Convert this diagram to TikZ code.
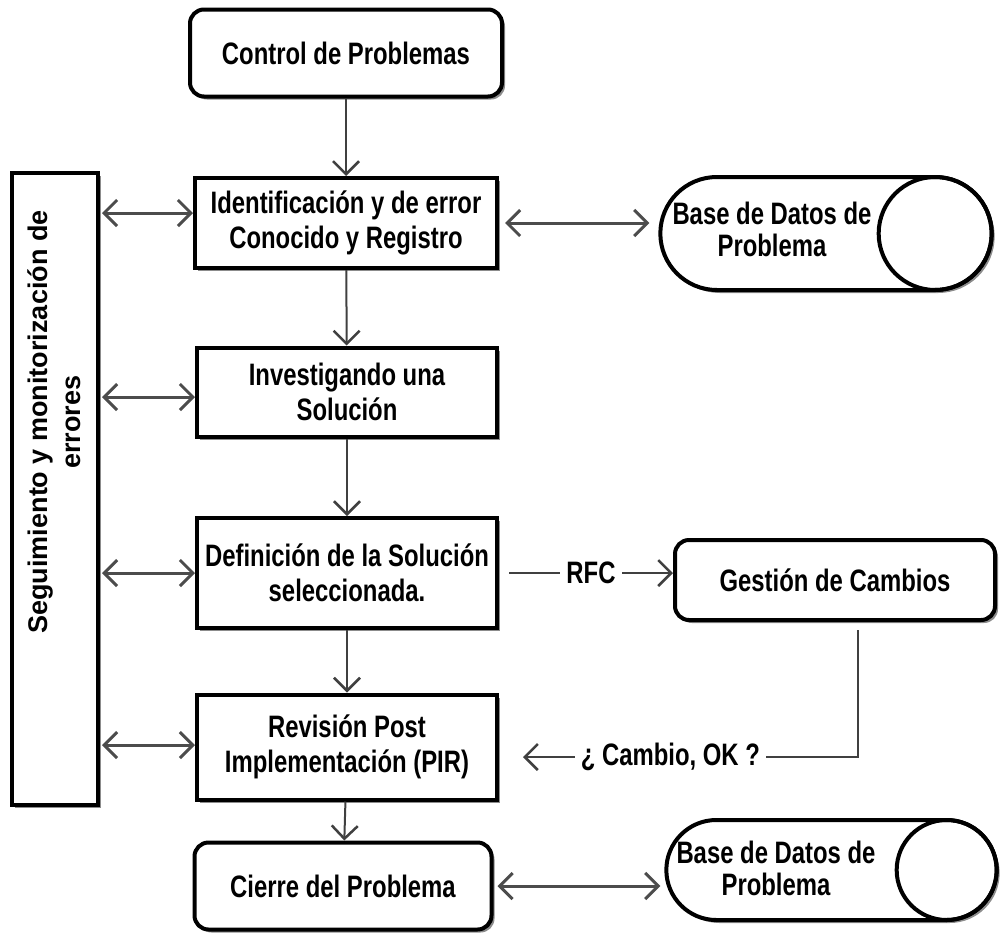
\documentclass[tikz,border=0pt]{standalone}
\usepackage{fontspec}
\usetikzlibrary{arrows.meta,shapes.misc,shadows}
\setmainfont{Liberation Sans}
\newfontfamily\narrowfont[FakeStretch=0.77]{Liberation Sans}
\begin{document}
\begin{tikzpicture}[x=1pt,y=-1pt,
  shadowed/.style={drop shadow={shadow xshift=3pt, shadow yshift=-3pt, fill=black!45, opacity=1}},
  stepbox/.style={draw, line width=4pt, fill=white, align=center,
    minimum width=300pt, minimum height=89pt, inner sep=2pt, shadowed,
    font=\narrowfont\bfseries\fontsize{31}{35}\selectfont},
  roundbox/.style={stepbox, rounded corners=14pt},
  dbbody/.style={rounded rectangle, draw, line width=4pt, fill=white, shadowed},
  dbend/.style={circle, draw, line width=4pt, inner sep=0pt, anchor=east},
  dbtext/.style={align=center, font=\narrowfont\bfseries\fontsize{31}{32}\selectfont},
  flow/.style={draw=black!75, line width=2pt,
    -{Straight Barb[length=13pt, width=26pt, line width=2.5pt]}},
  link/.style={draw=black!70, line width=3pt,
    {Straight Barb[length=13pt, width=26pt, line width=3pt]}-{Straight Barb[length=13pt, width=26pt, line width=3pt]}},
  lbl/.style={fill=white, inner sep=6pt, font=\narrowfont\bfseries\fontsize{31}{32}\selectfont}
]
\useasboundingbox (0,0) rectangle (1001,932);

% main process column
\node[roundbox, minimum width=312pt, minimum height=87pt] (ctrl) at (346,53) {Control de Problemas};
\node[stepbox, minimum width=302pt, minimum height=90pt] (ident) at (346,223) {Identificación y de error\\Conocido y Registro};
\node[stepbox] (invest) at (347,392) {Investigando una\\Solución};
\node[stepbox, minimum height=110pt] (defi) at (347,573) {Definición de la Solución\\seleccionada.};
\node[stepbox, minimum height=105pt] (rev) at (347,747) {Revisión Post\\Implementación (PIR)};
\node[roundbox, minimum width=297pt, minimum height=87pt] (cierre) at (343,886) {Cierre del Problema};

% tracking bar on the left
\node[draw, line width=4pt, fill=white, minimum width=86pt, minimum height=632pt, shadowed] (seg) at (55,489) {};
\node[rotate=90, align=center, font=\bfseries\fontsize{27}{33}\selectfont] (segtxt) at (54,422)
  {Seguimiento y monitorización de\\errores};

% problem databases: a lying cylinder with its round end on the right
\node[dbbody, minimum width=338pt, minimum height=113pt] (db1) at (826,233.5) {};
\node[dbend, minimum size=113pt] (db1end) at (db1.east) {};
\node[dbtext] (db1txt) at (772,229) {Base de Datos de\\Problema};
\node[dbbody, minimum width=337pt, minimum height=100pt] (db2) at (831.5,870) {};
\node[dbend, minimum size=100pt] (db2end) at (db2.east) {};
\node[dbtext] (db2txt) at (776,868) {Base de Datos de\\Problema};

% change management
\node[roundbox, minimum width=320pt, minimum height=80pt] (gest) at (835,580) {Gestión de Cambios};

% attachment points on the step boxes
\coordinate (identL) at ([yshift=10pt]ident.west);
\coordinate (investL) at ([yshift=-5pt]invest.west);
\coordinate (revL) at ([yshift=2pt]rev.west);
\coordinate (gestB) at ([xshift=23pt, yshift=-8pt]gest.south);
\coordinate (revR) at ([xshift=24pt, yshift=-10pt]rev.east);

% vertical flow
\draw[flow] (ctrl) -- (ident);
\draw[flow] (ident) -- (invest);
\draw[flow] (invest) -- (defi);
\draw[flow] (defi) -- (rev);
\draw[flow] (rev) -- (cierre);

% links to the tracking bar
\draw[link, shorten <=2pt] (seg.east |- identL) -- (identL);
\draw[link, shorten <=2pt] (seg.east |- investL) -- (investL);
\draw[link, shorten <=2pt] (seg.east |- defi.west) -- (defi.west);
\draw[link, shorten <=2pt] (seg.east |- revL) -- (revL);

% links to the databases
\draw[link, shorten <=6pt, shorten >=9pt] (ident.east) -- (ident.east -| db1.west);
\draw[link, shorten <=4pt, shorten >=4pt] (cierre.east) -- (cierre.east -| db2.west);

% request for change and its answer
\draw[flow] ([xshift=10pt]defi.east) -- node[lbl] (rfc) {RFC} (gest.west |- defi.east);
\draw[flow] (gestB) |- node[lbl, pos=0.78] (ok) {¿ Cambio, OK ?} (revR);
\end{tikzpicture}
\end{document}
